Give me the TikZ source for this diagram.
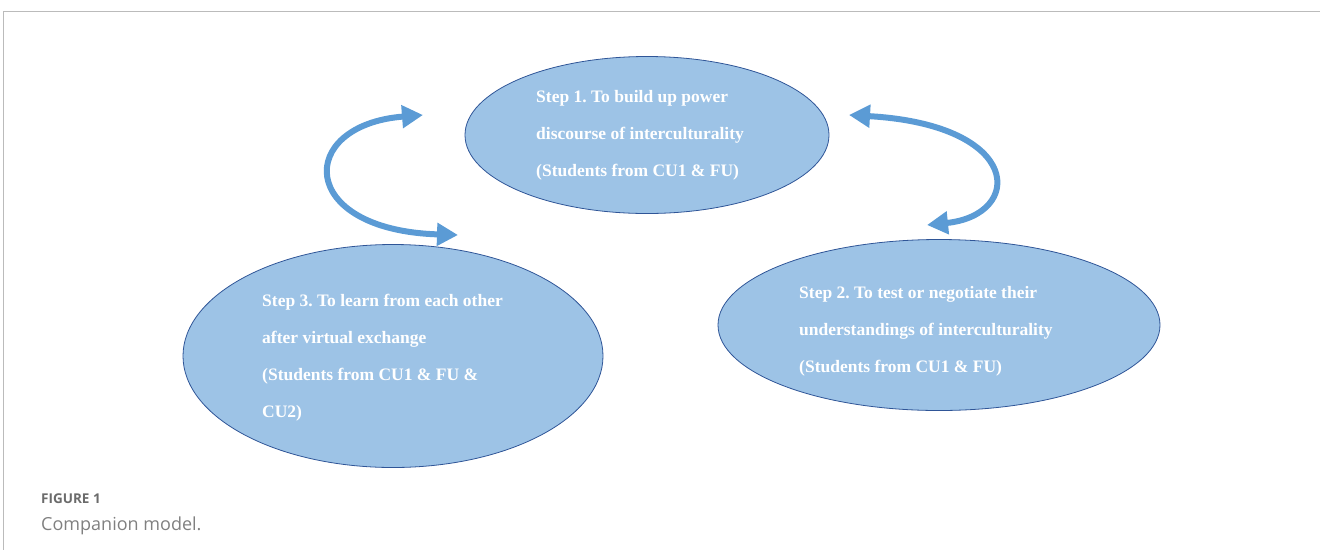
\documentclass[tikz,border=0pt]{standalone}
\usepackage{fontspec}
\setmainfont{Liberation Serif}
\newfontfamily\capfont{Open Sans}
\usetikzlibrary{shapes.geometric,arrows.meta}
\definecolor{ellfill}{HTML}{9DC3E6}
\definecolor{elldraw}{HTML}{2F5597}
\definecolor{arrowblue}{HTML}{5B9BD5}
\definecolor{framegray}{HTML}{BBBBBB}
\definecolor{capgray}{HTML}{6B6B6B}
\definecolor{capgraylight}{HTML}{808080}
\frenchspacing
\tikzset{
  stepell/.style={ellipse, draw=elldraw, fill=ellfill, line width=0.8pt, inner sep=0pt},
  steptext/.style={anchor=west, inner sep=0pt, text=white, align=left,
    font=\fontsize{17.5}{37}\selectfont\bfseries},
  cyclearrow/.style={draw=arrowblue, line width=6pt,
    {Triangle[length=21pt,width=22pt]}-{Triangle[length=21pt,width=22pt]}},
  framerule/.style={draw=framegray, line width=1pt}
}
\begin{document}
\begin{tikzpicture}[x=1pt,y=-1pt]
\useasboundingbox (0,0) rectangle (1320,550);
\coordinate (ftl) at (3,11);
\coordinate (ftr) at (1320,11);
\coordinate (fbl) at (3,550);
\draw[framerule] (ftr) -- (ftl) -- (fbl);

\node[stepell, minimum width=364pt, minimum height=157pt] (s1) at (647,135) {};
\node[stepell, minimum width=442pt, minimum height=171pt] (s2) at (939,325) {};
\node[stepell, minimum width=420pt, minimum height=223pt] (s3) at (393,356) {};

\node[steptext] (t1) at (536,135)
  {Step 1. To build up power\\discourse of interculturality\\(Students from CU1 \& FU)};
\node[steptext] (t2) at (799,331)
  {Step 2. To test or negotiate their\\understandings of interculturality\\(Students from CU1 \& FU)};
\node[steptext] (t3) at (262,358)
  {Step 3. To learn from each other\\after virtual exchange\\(Students from CU1 \& FU \&\\CU2)};

\coordinate (la) at (423,115);
\coordinate (lb) at (458,235);
\coordinate (ra) at (849,115);
\coordinate (rb) at (927,225);
\draw[cyclearrow] (la) .. controls (296,125) and (296,230) .. (lb);
\draw[cyclearrow] (ra) .. controls (1024,125) and (1024,215) .. (rb);

\node[anchor=base west, inner sep=0pt, text=capgray, font=\capfont\bfseries\fontsize{13.5}{16}\selectfont] (fig) at (41,503) {FIGURE 1};
\node[anchor=base west, inner sep=0pt, text=capgraylight, font=\capfont\fontsize{18}{21}\selectfont] (cap) at (41,530) {Companion model.};
\end{tikzpicture}
\end{document}
